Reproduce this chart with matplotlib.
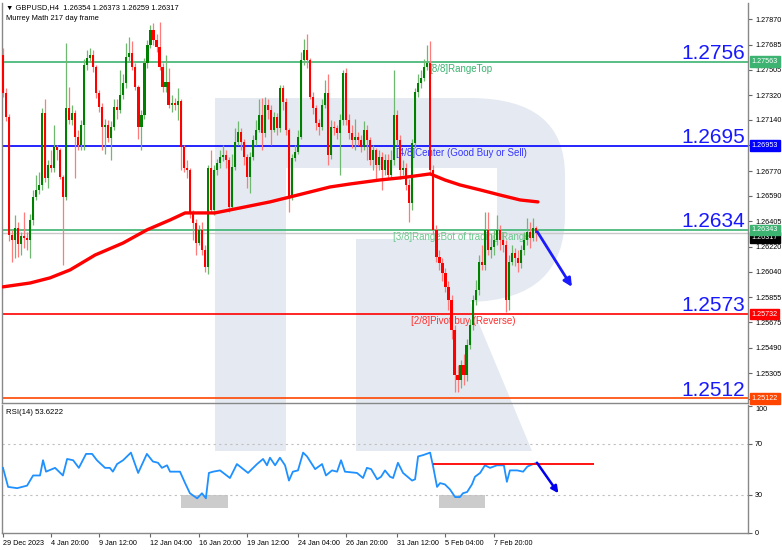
import matplotlib
matplotlib.use("Agg")
import matplotlib.pyplot as plt
from matplotlib.path import Path
from matplotlib.patches import PathPatch, Rectangle
from matplotlib.transforms import Affine2D
import numpy as np

# GBPUSD H4 candles
first_open = 1.27611
closes = [1.27336, 1.27162, 1.26306, 1.26270, 1.26357, 1.26241, 1.26299, 1.26285, 1.26270, 1.26415,
          1.26582, 1.26633, 1.26669, 1.27191, 1.26720, 1.26814, 1.26792, 1.26944, 1.26923, 1.26727,
          1.26582, 1.27227, 1.27140, 1.27191, 1.27017, 1.26959, 1.27104, 1.27539, 1.27590, 1.27611,
          1.27524, 1.27336, 1.27234, 1.27089, 1.27104, 1.27010, 1.27089, 1.27234, 1.27213, 1.27321,
          1.27408, 1.27597, 1.27626, 1.27524, 1.27379, 1.27089, 1.27176, 1.27553, 1.27684, 1.27793,
          1.27720, 1.27669, 1.27524, 1.27379, 1.27416, 1.27249, 1.27263, 1.27249, 1.27278, 1.26944,
          1.26792, 1.26778, 1.26466, 1.26393, 1.26248, 1.26343, 1.26198, 1.26074, 1.26792, 1.26488,
          1.26778, 1.26828, 1.26872, 1.26886, 1.26850, 1.26509, 1.26799, 1.26981, 1.27053, 1.26981,
          1.26872, 1.26727, 1.26872, 1.26995, 1.27068, 1.27176, 1.27046, 1.27249, 1.27213, 1.27068,
          1.27162, 1.27082, 1.27372, 1.27270, 1.27068, 1.26582, 1.26865, 1.26908, 1.27017, 1.27575,
          1.27648, 1.27575, 1.27307, 1.27227, 1.27118, 1.27089, 1.27249, 1.27336, 1.26886, 1.27089,
          1.27082, 1.27046, 1.27140, 1.27481, 1.27140, 1.27046, 1.26995, 1.27017, 1.26995, 1.26944,
          1.27068, 1.26995, 1.26850, 1.26923, 1.26814, 1.26872, 1.26778, 1.26850, 1.26741, 1.26850,
          1.27176, 1.26995, 1.26778, 1.26792, 1.26669, 1.26538, 1.26973, 1.27343, 1.27408, 1.27445,
          1.27524, 1.27553, 1.26778, 1.26343, 1.26147, 1.26103, 1.26031, 1.25929, 1.25835, 1.25618,
          1.25291, 1.25255, 1.25364, 1.25291, 1.25509, 1.25654, 1.25835, 1.25908, 1.26110, 1.26089,
          1.26343, 1.26198, 1.26219, 1.26270, 1.26343, 1.26270, 1.26234, 1.25835, 1.26110, 1.26176,
          1.26140, 1.26103, 1.26198, 1.26270, 1.26328, 1.26285, 1.26354, 1.26317]
highs = [1.2766, 1.2737, 1.2718, 1.2634, 1.2645, 1.2640, 1.2633, 1.2647, 1.2633, 1.2646,
         1.2663, 1.2674, 1.2676, 1.2723, 1.2729, 1.2685, 1.2692, 1.2710, 1.2696, 1.2694,
         1.2674, 1.2770, 1.2738, 1.2725, 1.2721, 1.2707, 1.2714, 1.2758, 1.2765, 1.2766,
         1.2765, 1.2754, 1.2736, 1.2726, 1.2715, 1.2714, 1.2713, 1.2729, 1.2729, 1.2750,
         1.2747, 1.2770, 1.2774, 1.2771, 1.2755, 1.2739, 1.2721, 1.2759, 1.2772, 1.2783,
         1.2784, 1.2776, 1.2785, 1.2755, 1.2761, 1.2752, 1.2732, 1.2730, 1.2737, 1.2729,
         1.2696, 1.2685, 1.2679, 1.2649, 1.2642, 1.2638, 1.2640, 1.2623, 1.2681, 1.2692,
         1.2681, 1.2686, 1.2692, 1.2696, 1.2692, 1.2687, 1.2689, 1.2708, 1.2713, 1.2708,
         1.2700, 1.2689, 1.2691, 1.2703, 1.2714, 1.2729, 1.2730, 1.2731, 1.2729, 1.2725,
         1.2720, 1.2719, 1.2739, 1.2739, 1.2730, 1.2708, 1.2689, 1.2696, 1.2707, 1.2763,
         1.2773, 1.2776, 1.2759, 1.2734, 1.2725, 1.2715, 1.2729, 1.2743, 1.2747, 1.2714,
         1.2713, 1.2710, 1.2718, 1.2750, 1.2752, 1.2718, 1.2710, 1.2715, 1.2705, 1.2703,
         1.2713, 1.2710, 1.2702, 1.2696, 1.2694, 1.2692, 1.2691, 1.2689, 1.2689, 1.2692,
         1.2750, 1.2721, 1.2703, 1.2685, 1.2683, 1.2671, 1.2700, 1.2737, 1.2747, 1.2750,
         1.2758, 1.2768, 1.2771, 1.2681, 1.2638, 1.2620, 1.2614, 1.2607, 1.2597, 1.2587,
         1.2565, 1.2536, 1.2540, 1.2544, 1.2555, 1.2570, 1.2587, 1.2598, 1.2616, 1.2623,
         1.2647, 1.2647, 1.2631, 1.2634, 1.2645, 1.2638, 1.2633, 1.2627, 1.2616, 1.2623,
         1.2621, 1.2620, 1.2623, 1.2633, 1.2643, 1.2640, 1.2643, 1.26373]
lows = [1.2731, 1.2713, 1.2626, 1.2611, 1.2614, 1.2615, 1.2616, 1.2621, 1.2620, 1.2614,
        1.2638, 1.2656, 1.2660, 1.2663, 1.2669, 1.2665, 1.2676, 1.2676, 1.2685, 1.2671,
        1.2609, 1.2656, 1.2711, 1.2710, 1.2672, 1.2692, 1.2692, 1.2692, 1.2750, 1.2756,
        1.2749, 1.2730, 1.2720, 1.2692, 1.2689, 1.2698, 1.2685, 1.2707, 1.2715, 1.2719,
        1.2729, 1.2737, 1.2756, 1.2750, 1.2736, 1.2700, 1.2692, 1.2715, 1.2752, 1.2766,
        1.2768, 1.2763, 1.2750, 1.2734, 1.2734, 1.2723, 1.2720, 1.2721, 1.2714, 1.2678,
        1.2676, 1.2672, 1.2643, 1.2627, 1.2616, 1.2623, 1.2616, 1.2604, 1.2602, 1.2647,
        1.2645, 1.2674, 1.2679, 1.2684, 1.2679, 1.2647, 1.2649, 1.2678, 1.2696, 1.2692,
        1.2681, 1.2665, 1.2661, 1.2685, 1.2696, 1.2705, 1.2692, 1.2702, 1.2715, 1.2696,
        1.2705, 1.2703, 1.2705, 1.2721, 1.2703, 1.2647, 1.2656, 1.2684, 1.2689, 1.2700,
        1.2754, 1.2752, 1.2729, 1.2718, 1.2707, 1.2703, 1.2707, 1.2723, 1.2681, 1.2686,
        1.2703, 1.2700, 1.2674, 1.2710, 1.2710, 1.2700, 1.2694, 1.2692, 1.2696, 1.2691,
        1.2692, 1.2685, 1.2681, 1.2678, 1.2671, 1.2678, 1.2663, 1.2674, 1.2672, 1.2671,
        1.2681, 1.2696, 1.2671, 1.2674, 1.2663, 1.2640, 1.2649, 1.2694, 1.2731, 1.2737,
        1.2742, 1.2750, 1.2674, 1.2631, 1.2611, 1.2605, 1.2597, 1.2589, 1.2576, 1.2555,
        1.2517, 1.2517, 1.2520, 1.2522, 1.2525, 1.2548, 1.2562, 1.2580, 1.2587, 1.2605,
        1.2605, 1.2616, 1.2614, 1.2616, 1.2623, 1.2620, 1.2618, 1.2575, 1.2576, 1.2609,
        1.2608, 1.2604, 1.2607, 1.2616, 1.2623, 1.2621, 1.2626, 1.26259]
opens = [first_open] + closes[:-1]

# moving average (red) sampled along the chart
ma_x = [0, 9, 15.6, 22.3, 30.6, 39.9, 47.8, 55.5, 60.5, 70.4, 78.7, 88.7, 95.4, 102, 108.6,
        115.3, 125.2, 131.9, 136.9, 141.9, 146.8, 151.8, 158.5, 165.1, 171.8, 177.7]
ma_y = [1.25930, 1.25958, 1.25995, 1.26053, 1.26161, 1.26248, 1.26343, 1.26415, 1.26466, 1.26466,
        1.26502, 1.26546, 1.26582, 1.26618, 1.26654, 1.26676, 1.26705, 1.26720, 1.26734, 1.26749,
        1.26705, 1.26669, 1.26633, 1.26596, 1.26560, 1.26546]

# RSI(14)
rsi_x = [0, 1.7, 4.7, 8, 10, 12.3, 13.3, 14.3, 17.3, 19.9, 21.3, 23.3, 25.2, 27.6, 29.6, 31.2,
         33.9, 35.5, 36.5, 37.9, 39.9, 42.5, 44.9, 47.8, 49.8, 51.5, 52.8, 54.5, 55.5, 58.8, 60.5,
         62.1, 64.5, 66.1, 67.4, 68.4, 69.8, 72.1, 75.4, 77.7, 81.4, 84.4, 86.4, 87.7, 88.7, 90.4,
         92, 93.7, 95, 96.3, 98, 99.7, 101, 103.7, 106, 107.3, 109.3, 111, 112.3, 113.6, 117.6,
         119.6, 120.9, 122.3, 124.3, 125.6, 126.9, 128.6, 129.6, 131.2, 132.9, 135.9, 136.9, 137.9,
         139.5, 141.9, 142.9, 144.2, 145.2, 146.8, 148.5, 150.2, 151.8, 152.8, 154.2, 155.8, 156.8,
         158.5, 160.1, 161.8, 164.1, 166.4, 167.4, 168.4, 170.8, 172.8, 174.2, 176.1, 177.4]
rsi_y = [51, 36, 35, 37, 45, 45, 57, 48, 51, 45, 58, 57, 51, 62, 62, 57,
         51, 51, 48, 54, 57, 63, 47, 62, 56, 55, 51, 53, 48, 48, 39,
         31, 27, 31, 27, 47, 48, 49, 43, 54, 47, 54, 58, 53, 59, 53,
         59, 53, 41, 48, 49, 63, 60, 50, 54, 45, 49, 48, 57, 48, 47,
         43, 51, 50, 42, 44, 49, 44, 43, 55, 47, 41, 42, 60,
         61, 63, 52, 36, 39, 38, 34, 28, 28, 31, 32, 38, 44,
         47, 53, 51, 53, 53, 40, 49, 49, 48, 52, 54, 55]

# Murrey Math levels
levels = [1.27563, 1.26953, 1.26343, 1.25732, 1.25122]
level_colors = ['#3cb371', '#0000ff', '#3cb371', '#ff0000', '#ff4500']
level_text = ['[8/8]RangeTop', '[4/8]Center (Good Buy or Sell)',
              '[3/8]RangeBot of trading Range', '[2/8]Pivot buy (Reverse)']
level_text_x = [141.5, 130.5, 129.5, 135.5]
level_text_colors = ['#3cb371', '#3535ff', '#6cc78c', '#ff3030']
big_labels = ['1.2756', '1.2695', '1.2634', '1.2573', '1.2512']
last_price = 1.26317

price_ticks = [1.27870, 1.27685, 1.27505, 1.27320, 1.27140, 1.26955, 1.26770, 1.26590,
               1.26405, 1.26220, 1.26040, 1.25855, 1.25675, 1.25490, 1.25305, 1.25120]
hidden_ticks = [1.26955, 1.25120]   # covered by the level boxes
date_ticks = [0, 16, 32, 49, 65, 81, 98, 114, 131, 147, 163]
date_labels = ['29 Dec 2023', '4 Jan 20:00', '9 Jan 12:00', '12 Jan 04:00', '16 Jan 20:00',
               '19 Jan 12:00', '24 Jan 04:00', '26 Jan 20:00', '31 Jan 12:00', '5 Feb 04:00',
               '7 Feb 20:00']

# forecast arrows
fc_x = [177.5, 189]
fc_price = [1.26330, 1.25930]
rsi_fc_x = [177.4, 184.5]
rsi_fc = [55, 31]
rsi_res_x = [143, 196.5]
rsi_res = 54
rsi_zones = [(59, 74.7), (144.7, 160)]

small = dict(family='Liberation Sans', fontsize=5.2)

W, H = 782, 550
fig = plt.figure(figsize=(W / 100, H / 100), dpi=100)
fig.patch.set_facecolor('white')

# watermark "R" (pixel coordinates)
verts = [(215, 98), (470, 98), (565, 98), (565, 175), (565, 215), (565, 300), (470, 302),
         (532, 451), (356, 451), (356, 239), (497, 239), (497, 168), (286, 168), (286, 451),
         (215, 451), (215, 98)]
codes = [Path.MOVETO, Path.LINETO, Path.CURVE3, Path.CURVE3, Path.LINETO, Path.CURVE3, Path.CURVE3,
         Path.LINETO, Path.LINETO, Path.LINETO, Path.LINETO, Path.LINETO, Path.LINETO, Path.LINETO,
         Path.LINETO, Path.CLOSEPOLY]
px = Affine2D().scale(1 / W, -1 / H).translate(0, 1) + fig.transFigure
fig.add_artist(PathPatch(Path(verts, codes), fc='#e5eaf2', ec='none', zorder=-1, transform=px))

xlim = (-0.33, 247.5)
ax = fig.add_axes([2 / W, 1 - 403 / H, 746 / W, 400 / H])
ax.set_facecolor('none')
ax.set_xlim(*xlim)
ax.set_ylim(1.25088, 1.27988)

for lv, col in zip(levels, level_colors):
    ax.axhline(lv, color=col, lw=1.2, zorder=2)
ax.axhline(last_price, color='#c8c8c8', lw=1.0, zorder=1.5)

for t, tx, lv, col in zip(level_text, level_text_x, levels, level_text_colors):
    ax.annotate(t, xy=(tx, lv), xytext=(0, -1.5), textcoords='offset points', ha='left', va='top',
                fontsize=7, color=col, family='Liberation Sans', zorder=2.2)

# candles
o = np.array(opens)
c = np.array(closes)
h = np.array(highs)
l = np.array(lows)
x = np.arange(len(c))
up = c >= o
body_col = np.where(up, '#008000', '#ff0000')
wick_col = np.where(up, '#6fb86f', '#ff7a7a')
ax.vlines(x, l, h, colors=wick_col, lw=0.9, zorder=3)
ax.bar(x, np.maximum(np.abs(c - o), 0.00003), bottom=np.minimum(o, c), width=0.7,
       color=body_col, zorder=4, linewidth=0)

ax.plot(ma_x, ma_y, color='#ff0000', lw=2.4, zorder=5, solid_capstyle='round')

for lab, lv in zip(big_labels, levels):
    ax.annotate(lab, xy=(0.996, lv), xycoords=('axes fraction', 'data'), xytext=(0, 2),
                textcoords='offset points', ha='right', va='baseline', fontsize=15,
                color='#1818ff', family='Liberation Sans', zorder=6)

ax.annotate('', xy=(fc_x[1], fc_price[1]), xytext=(fc_x[0], fc_price[0]),
            arrowprops=dict(arrowstyle='-|>', color='#1a1aff', lw=2, mutation_scale=12,
                            shrinkA=0, shrinkB=0), zorder=7)

ax.yaxis.tick_right()
ax.set_yticks(price_ticks)
ax.set_yticklabels(['' if p in hidden_ticks else f'{p:.5f}' for p in price_ticks], **small)
ax.tick_params(axis='y', length=3, width=0.8, pad=2, color='#666666')
ax.set_xticks([])
ax.spines['top'].set_visible(False)
for s in ['left', 'right', 'bottom']:
    ax.spines[s].set_color('#888888')
    ax.spines[s].set_linewidth(1)

box_prices = [last_price, 1.27563, 1.26953, 1.26343, 1.25732, 1.25122]
box_colors = ['#000000', '#3cb371', '#0000ff', '#3cb371', '#ff0000', '#ff4500']
box_shift = [-3, 0, 0, 0, 0, 0]
for p, col, dy in zip(box_prices, box_colors, box_shift):
    ax.annotate(f'{p:.5f}', xy=(1, p), xycoords=('axes fraction', 'data'), xytext=(2.5, dy),
                textcoords='offset points', ha='left', va='center', color='white',
                bbox=dict(boxstyle='square,pad=0.25', fc=col, ec=col), annotation_clip=False,
                zorder=8, **small)

# RSI panel
rx = fig.add_axes([2 / W, 1 - 533 / H, 746 / W, 128 / H])
rx.set_facecolor('none')
rx.set_xlim(*xlim)
rx.set_ylim(-0.3, 100.5)
for zx in rsi_zones:
    rx.add_patch(Rectangle((zx[0], 19.6), zx[1] - zx[0], 10.4, fc='#cccccc', ec='none', zorder=1))
for lv in [70, 30]:
    rx.axhline(lv, color='#c0c0c0', lw=0.8, ls=(0, (2, 3)), zorder=1.5)
rx.plot(rsi_x, rsi_y, color='#1e90ff', lw=1.3, zorder=3)
rx.hlines(rsi_res, rsi_res_x[0], rsi_res_x[1], color='#ff0000', lw=1.3, zorder=4)
rx.annotate('', xy=(rsi_fc_x[1], rsi_fc[1]), xytext=(rsi_fc_x[0], rsi_fc[0]),
            arrowprops=dict(arrowstyle='-|>', color='#0000ee', lw=1.8, mutation_scale=10,
                            shrinkA=0, shrinkB=0), zorder=5)
rx.text(0.006, 0.97, 'RSI(14) 53.6222', transform=rx.transAxes, va='top', ha='left',
        family='Liberation Sans', fontsize=5.6)

rx.yaxis.tick_right()
rx.set_yticks([0, 30, 70, 100])
rx.set_yticklabels(['0', '30', '70', '100'], **small)
rx.get_yticklabels()[-1].set_va('top')
rx.tick_params(axis='y', length=3, width=0.8, pad=2, color='#666666')
rx.set_xticks(date_ticks)
rx.set_xticklabels(date_labels, ha='left', **small)
rx.tick_params(axis='x', length=3, width=0.8, pad=2, color='#666666')
rx.spines['top'].set_visible(False)
for s in ['left', 'right', 'bottom']:
    rx.spines[s].set_color('#888888')
    rx.spines[s].set_linewidth(1)

fig.text(6 / W, 1 - 8 / H, '\u25bc GBPUSD,H4  1.26354 1.26373 1.26259 1.26317', va='center',
         ha='left', family=['Liberation Sans', 'DejaVu Sans'], fontsize=5.4)
fig.text(6 / W, 1 - 19 / H, 'Murrey Math 217 day frame', va='center', ha='left',
         family='Liberation Sans', fontsize=5.4)

fig.savefig('out.png', dpi=100)
